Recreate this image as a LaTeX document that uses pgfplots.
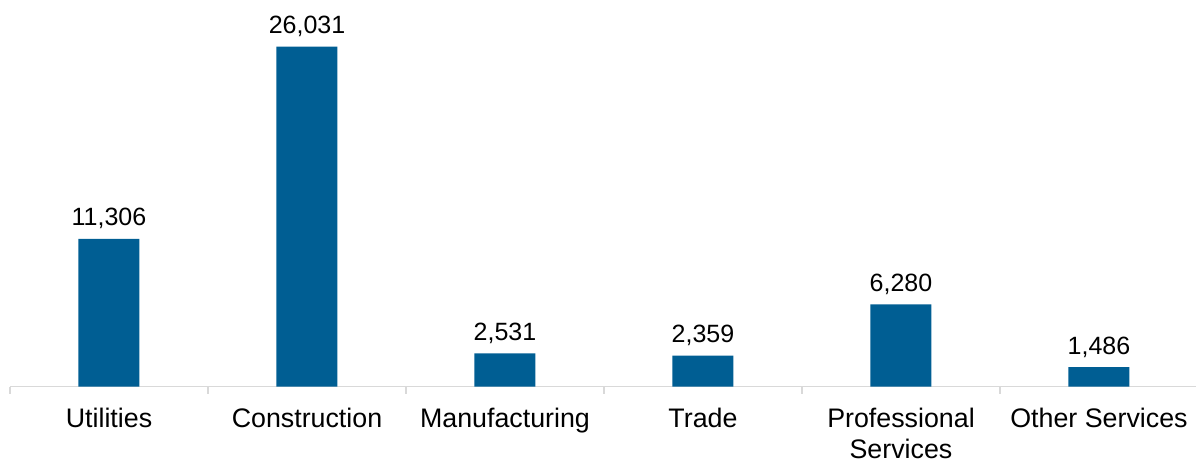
\documentclass[border=0pt]{standalone}
\usepackage{pgfplots}
\pgfplotsset{compat=1.18}
\usepackage{fontspec}
\setmainfont{Liberation Sans}
\definecolor{barblue}{HTML}{005E93}
\definecolor{axisgray}{HTML}{D9D9D9}
\begin{document}
\begin{tikzpicture}
\begin{axis}[
  at={(0,0)}, anchor=south west,
  scale only axis,
  width=594pt, height=182.85pt,
  xmin=-0.5, xmax=5.5,
  ymin=0, ymax=28000,
  axis x line*=bottom,
  hide y axis,
  axis line style={draw=axisgray, line width=0.8pt},
  xtick={0,1,2,3,4,5},
  xticklabels={Utilities,Construction,Manufacturing,Trade,{Professional\\Services},Other Services},
  major tick length=0pt,
  xticklabel style={font=\fontsize{13.4}{15.5}\selectfont, align=center, anchor=north, inner sep=0pt, yshift=-10.5pt},
  extra x ticks={-0.5,0.5,1.5,2.5,3.5,4.5,5.5},
  extra x tick labels={},
  extra x tick style={major tick length=3.5pt, tick align=outside, tick style={draw=axisgray, line width=0.8pt}},
  /pgf/number format/.cd, 1000 sep={,}, assume math mode=true, /pgfplots/.cd,
  ybar, bar width=30.5pt,
  nodes near coords,
  nodes near coords style={font=\fontsize{12.5}{15}\selectfont, anchor=base, inner sep=0pt, yshift=6.5pt, text=black},
  clip=false,
]
\addplot[fill=barblue, draw=none] coordinates {(0,11306) (1,26031) (2,2531) (3,2359) (4,6280) (5,1486)};
\end{axis}
\pgfresetboundingbox
\path (-5pt,-37.75pt) rectangle (593pt,193.25pt);
\end{tikzpicture}
\end{document}
